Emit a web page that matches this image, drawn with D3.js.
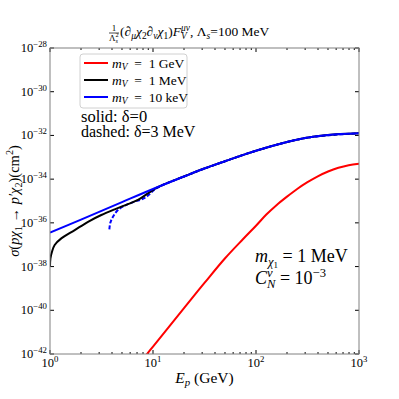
<!DOCTYPE html>
<html>
<head>
<meta charset="utf-8">
<script src="https://cdn.jsdelivr.net/npm/d3@7"></script>
<style>
  body { margin: 0; background: #fff; }
  svg { display: block; font-family: 'Liberation Serif', serif; }
</style>
</head>
<body>
<svg width="399" height="399"></svg>
<script>
(function(d3) {
    'use strict';

    // values: E_p in GeV, log10 of sigma in cm^2
    const redE = [7.94, 10, 20, 31.6, 50.1, 75, 100, 126, 158, 200, 251, 316, 398, 501, 631, 794, 1000];
    const redLogSigma = [-42.25, -41.66, -39.9, -38.75, -37.62, -36.74, -36.13, -35.62, -35.19, -34.8, -34.45, -34.14, -33.87, -33.65, -33.48, -33.36, -33.29];

    const blackE = [1, 1.01, 1.046, 1.11, 1.288, 1.738, 2.34, 3.15, 4.25, 5.72, 7.15, 9, 11, 20, 30, 50, 100, 200, 300, 500, 1000];
    const blackLogSigma = [-38.0, -37.62, -37.32, -37.01, -36.71, -36.33, -35.95, -35.64, -35.38, -35.14, -34.95, -34.64, -34.38, -33.88, -33.55, -33.18, -32.7, -32.3, -32.12, -31.98, -31.9];

    const blueE = [1, 2, 5, 10, 20, 30, 50, 100, 200, 300, 500, 1000];
    const blueLogSigma = [-36.45, -35.85, -35.05, -34.45, -33.88, -33.55, -33.18, -32.7, -32.3, -32.12, -31.98, -31.9];

    const blueDashE = [3.77, 3.85, 4.09, 4.57, 5.5, 6.64, 8.3, 11, 20, 50, 100, 300, 1000];
    const blueDashLogSigma = [-36.3, -36.0, -35.72, -35.41, -35.18, -35.03, -34.86, -34.4, -33.88, -33.18, -32.7, -32.12, -31.9];

    const xTickExps = [0, 1, 2, 3];
    const yTickExps = [-28, -30, -32, -34, -36, -38, -40, -42];

    const legendLabels = ['1 GeV', '1 MeV', '10 keV'];
    const legendColors = ['#ff0000', '#000000', '#0000ff'];

    const svg = d3.select('svg');
    const margin = { left: 50, right: 40, top: 48, bottom: 45 };
    const width = 399 - margin.left - margin.right;
    const height = 399 - margin.top - margin.bottom;

    const x = d3.scaleLog().domain([1, 1000]).range([0, width]);
    const y = d3.scaleLog().domain([1e-42, 1e-28]).range([height, 0]);

    const toPoints = (es, ls) => es.map((e, i) => ({ e, s: Math.pow(10, ls[i]) }));

    // rich text: parts are [text, opts]; opts.i italic, opts.sh 'sub'|'sup'|'sub2', opts.back stacks on previous
    const rich = (sel, parts, size) => {
        let level = 0;
        let prev = null;
        parts.forEach(([t, o = {}]) => {
            const shift = { sub: size * 0.22, sup: -size * 0.4, sub2: size * 0.34 }[o.sh] || 0;
            const fs = o.sh === 'sub2' ? size * 0.5 : o.sh ? size * 0.7 : size;
            const ts = sel.append('tspan')
                .text(t)
                .attr('font-size', fs)
                .attr('font-style', o.i ? 'italic' : 'normal')
                .attr('dy', shift - level);
            if (o.back && prev) ts.attr('dx', -prev.node().getComputedTextLength());
            prev = ts;
            level = shift;
        });
    };

    const g = svg.append('g')
        .attr('transform', `translate(${margin.left},${margin.top})`);

    g.append('clipPath').attr('id', 'clip')
        .append('rect').attr('width', width).attr('height', height);

    // ticks inward on all sides
    const minorX = [];
    [1, 10, 100].forEach(b => d3.range(2, 10).forEach(k => minorX.push(b * k)));

    const tickG = g.append('g').attr('stroke', '#000').attr('stroke-width', 1);
    xTickExps.forEach(p => {
        const xv = x(Math.pow(10, p));
        tickG.append('line').attr('x1', xv).attr('x2', xv).attr('y1', height).attr('y2', height - 4);
        tickG.append('line').attr('x1', xv).attr('x2', xv).attr('y1', 0).attr('y2', 4);
    });
    minorX.forEach(v => {
        tickG.append('line').attr('x1', x(v)).attr('x2', x(v)).attr('y1', height).attr('y2', height - 2);
        tickG.append('line').attr('x1', x(v)).attr('x2', x(v)).attr('y1', 0).attr('y2', 2);
    });
    yTickExps.forEach(p => {
        const yv = y(Math.pow(10, p));
        tickG.append('line').attr('x1', 0).attr('x2', 4).attr('y1', yv).attr('y2', yv);
        tickG.append('line').attr('x1', width).attr('x2', width - 4).attr('y1', yv).attr('y2', yv);
    });

    // tick labels
    xTickExps.forEach(p => {
        const t = g.append('text')
            .attr('x', x(Math.pow(10, p)))
            .attr('y', height + 13)
            .attr('text-anchor', 'middle');
        rich(t, [['10'], [String(p), { sh: 'sup' }]], 12.5);
    });
    yTickExps.forEach(p => {
        const t = g.append('text')
            .attr('x', -3)
            .attr('y', y(Math.pow(10, p)) + 4)
            .attr('text-anchor', 'end');
        rich(t, [['10'], ['\u2212' + Math.abs(p), { sh: 'sup' }]], 12.5);
    });

    // curves
    const line = d3.line()
        .x(d => x(d.e))
        .y(d => y(d.s))
        .curve(d3.curveCatmullRom.alpha(0.5));

    const curves = g.append('g').attr('clip-path', 'url(#clip)')
        .attr('fill', 'none').attr('stroke-width', 2);

    curves.append('path')
        .attr('d', line(toPoints(blueDashE, blueDashLogSigma)))
        .attr('stroke', legendColors[2])
        .attr('stroke-dasharray', '4,2');
    curves.append('path')
        .attr('d', line(toPoints(blackE, blackLogSigma)))
        .attr('stroke', legendColors[1]);
    curves.append('path')
        .attr('d', line(toPoints(blueE, blueLogSigma)))
        .attr('stroke', legendColors[2]);
    curves.append('path')
        .attr('d', line(toPoints(redE, redLogSigma)))
        .attr('stroke', legendColors[0]);

    // frame
    g.append('rect')
        .attr('width', width).attr('height', height)
        .attr('fill', 'none').attr('stroke', '#808080').attr('stroke-width', 1);

    // legend
    const legend = g.append('g').attr('transform', 'translate(30,6)');
    legend.append('rect')
        .attr('width', 107).attr('height', 54).attr('rx', 3)
        .attr('fill', '#fff').attr('fill-opacity', 0.8)
        .attr('stroke', '#d0d0d0');
    legendLabels.forEach((lab, i) => {
        const row = legend.append('g').attr('transform', `translate(0,${9 + i * 17})`);
        row.append('line').attr('x1', 4).attr('x2', 28)
            .attr('stroke', legendColors[i]).attr('stroke-width', 2);
        const t = row.append('text').attr('x', 32).attr('y', 4.5);
        rich(t, [['m', { i: true }], ['V', { i: true, sh: 'sub' }], ['\u2002=\u2002' + lab]], 13.5);
    });

    g.append('text').attr('x', 31).attr('y', 74).attr('font-size', 16.5)
        .text('solid: \u03b4=0');
    g.append('text').attr('x', 31).attr('y', 89).attr('font-size', 16)
        .text('dashed: \u03b4=3 MeV');

    // annotation
    const a1 = g.append('text').attr('x', 205).attr('y', 214);
    rich(a1, [['m', { i: true }], ['\u03c7', { i: true, sh: 'sub' }], ['1', { sh: 'sub2' }], [' = 1 MeV']], 18);
    const a2 = g.append('text').attr('x', 205).attr('y', 236);
    rich(a2, [['C', { i: true }], ['v', { i: true, sh: 'sup' }], ['N', { i: true, sh: 'sub', back: true }], [' = 10'], ['\u22123', { sh: 'sup' }]], 18);

    // axis labels
    const xl = svg.append('text')
        .attr('x', margin.left + width / 2).attr('y', 383)
        .attr('text-anchor', 'middle');
    rich(xl, [['E', { i: true }], ['p', { i: true, sh: 'sub' }], [' (GeV)']], 15.5);

    const yl = svg.append('text')
        .attr('transform', `translate(19,${margin.top + height / 2}) rotate(-90)`)
        .attr('text-anchor', 'middle');
    rich(yl, [['\u03c3', { i: true }], ['('], ['p\u03c7', { i: true }], ['1', { sh: 'sub' }],
        [' \u2192 '], ['p\u2032\u03c7', { i: true }], ['2', { sh: 'sub' }], [')(cm'], ['2', { sh: 'sup' }], [')']], 14.5);

    // title with fraction
    svg.append('text').attr('x', 114).attr('y', 31).attr('font-size', 9)
        .attr('text-anchor', 'middle').text('1');
    svg.append('line').attr('x1', 109).attr('x2', 119).attr('y1', 33).attr('y2', 33)
        .attr('stroke', '#000').attr('stroke-width', 0.7);
    const fr = svg.append('text').attr('x', 109).attr('y', 41);
    rich(fr, [['\u039b'], ['2', { sh: 'sup' }], ['s', { i: true, sh: 'sub', back: true }]], 9);

    const title = svg.append('text').attr('x', 120).attr('y', 36);
    rich(title, [['(\u2202'], ['\u03bc', { i: true, sh: 'sub' }], ['\u03c7', { i: true }], ['2', { sh: 'sub' }],
        ['\u2202'], ['\u03bd', { i: true, sh: 'sub' }], ['\u03c7', { i: true }], ['1', { sh: 'sub' }],
        [')'], ['F', { i: true }], ['\u03bc\u03bd', { i: true, sh: 'sup' }], ['V', { i: true, sh: 'sub', back: true }],
        ['   , \u039b'], ['s', { i: true, sh: 'sub' }], ['=100 MeV']], 13.5);
}(d3));
</script>
</body>
</html>
